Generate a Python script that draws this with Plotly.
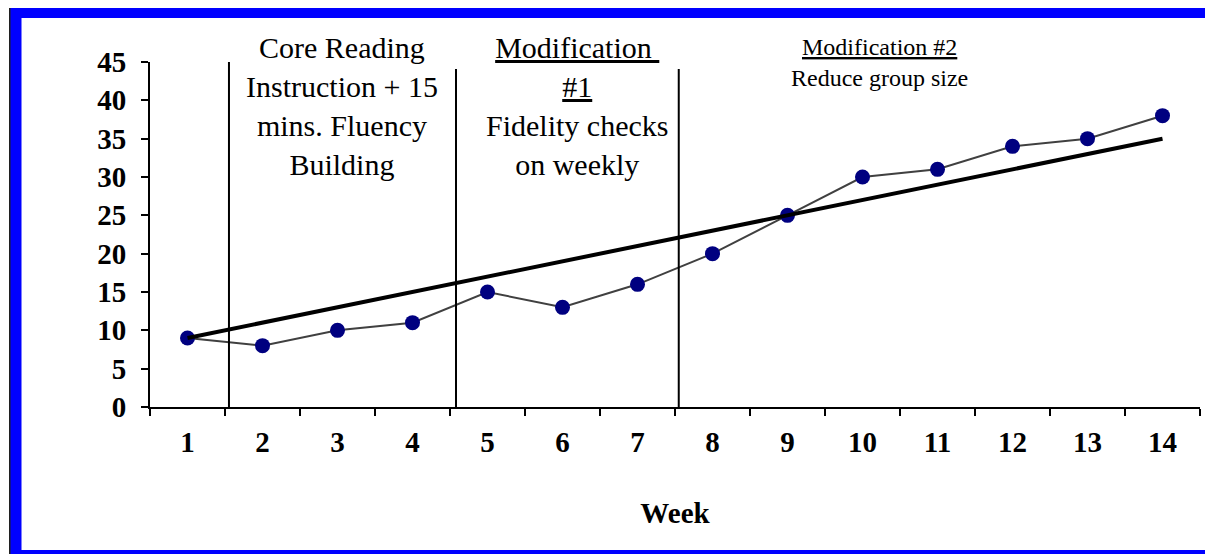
import plotly.graph_objects as go

weeks = [str(w) for w in range(1, 15)]
scores = [9, 8, 10, 11, 15, 13, 16, 20, 25, 30, 31, 34, 35, 38]
trend_weeks = ["1", "14"]
trend_values = [9, 35]
y_ticks = [0, 5, 10, 15, 20, 25, 30, 35, 40, 45]

# phase-change lines, in category-index units (0 = week 1)
phase_lines = [0.553, 3.58, 6.55]
phase_tops = [45.3, 44.1, 44.1]

FONT = "Liberation Serif, Times New Roman, serif"

fig = go.Figure()
fig.add_trace(go.Scatter(
    x=weeks, y=scores, mode="lines+markers",
    line=dict(color="#404040", width=2),
    marker=dict(color="#000080", size=15),
    showlegend=False, hoverinfo="skip"))
fig.add_trace(go.Scatter(
    x=trend_weeks, y=trend_values, mode="lines",
    line=dict(color="black", width=4),
    showlegend=False, hoverinfo="skip"))

# page is offset by the default 8px body margin
OFF = 8
W, H = 1213, 554
L, T = 150 - OFF, 62 - OFF
pw, ph = 1050, 345
R = W - L - pw
B = H - T - ph

def px2paper_x(px):  # px in page coordinates
    return (px - OFF - L) / pw

def px2paper_y(py):
    return (T + ph - (py - OFF)) / ph

shapes = []
for xl, yt in zip(phase_lines, phase_tops):
    shapes.append(dict(type="line", xref="x", yref="y", x0=xl, x1=xl,
                       y0=-0.4, y1=yt, line=dict(color="black", width=2),
                       layer="above"))
# blue frame
shapes.append(dict(type="rect", xref="paper", yref="paper",
                   x0=px2paper_x(10), x1=px2paper_x(1240),
                   y0=px2paper_y(600), y1=px2paper_y(6.5),
                   line=dict(color="#202020", width=2), layer="below"))
shapes.append(dict(type="rect", xref="paper", yref="paper",
                   x0=px2paper_x(16), x1=px2paper_x(1240),
                   y0=px2paper_y(555.5), y1=px2paper_y(12.5),
                   line=dict(color="#0000FF", width=11), layer="below"))

annotations = [
    dict(text="Core Reading<br>Instruction + 15<br>mins. Fluency<br>Building",
         xref="x", yref="paper", x=2.06, y=px2paper_y(105.5),
         xanchor="center", yanchor="middle", align="center", showarrow=False,
         font=dict(family=FONT, size=30, color="black")),
    dict(text="<u>Modification&nbsp;</u><br><u>#1</u><br>Fidelity checks<br>on weekly",
         xref="x", yref="paper", x=5.19, y=px2paper_y(105.5),
         xanchor="center", yanchor="middle", align="center", showarrow=False,
         font=dict(family=FONT, size=30, color="black")),
    dict(text="<u>Modification #2</u><br>Reduce group size",
         xref="x", yref="paper", x=9.22, y=px2paper_y(62),
         xanchor="center", yanchor="middle", align="center", showarrow=False,
         font=dict(family=FONT, size=24, color="black")),
]

fig.update_layout(
    width=W, height=H,
    margin=dict(l=L, r=R, t=T, b=B, pad=0),
    paper_bgcolor="white", plot_bgcolor="white",
    shapes=shapes, annotations=annotations,
    font=dict(family=FONT, color="black"),
)
fig.update_xaxes(
    type="category", categoryorder="array", categoryarray=weeks,
    range=[-0.5, 13.5], tickson="boundaries",
    ticks="outside", ticklen=7, tickwidth=2, tickcolor="black",
    showline=True, linecolor="black", linewidth=2,
    showgrid=False, zeroline=False,
    tickfont=dict(family=FONT, size=29, color="black", weight="bold"),
    ticklabelstandoff=8,
    title=dict(text="<b>Week</b>", font=dict(family=FONT, size=29, color="black"),
               standoff=46),
)
fig.update_yaxes(
    range=[0, 45], tickvals=y_ticks,
    ticks="outside", ticklen=7, tickwidth=2, tickcolor="black",
    showline=True, linecolor="black", linewidth=2,
    showgrid=False, zeroline=False,
    tickfont=dict(family=FONT, size=29, color="black", weight="bold"),
    ticklabelstandoff=9,
)

fig.write_html("out.html")
